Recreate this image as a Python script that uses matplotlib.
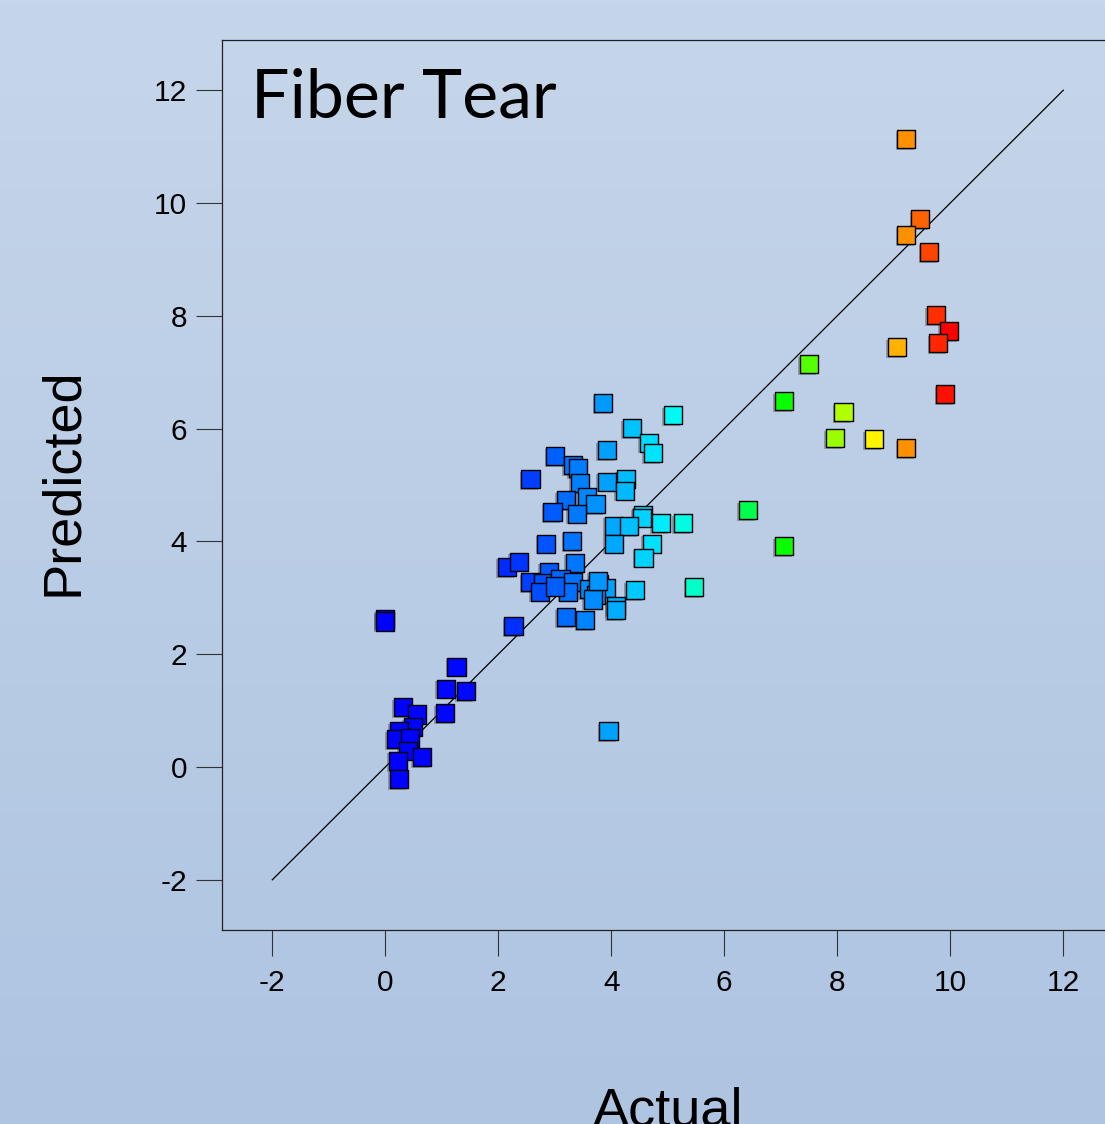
import numpy as np
import matplotlib
matplotlib.use('Agg')
import matplotlib.pyplot as plt
import matplotlib.patheffects as pe
from matplotlib.colors import LinearSegmentedColormap

plt.rcParams['font.family'] = ['Liberation Sans', 'DejaVu Sans']

# actual vs predicted
actual = [
    9.22, 9.47, 9.22, 9.63, 9.75, 9.98, 9.79, 9.06, 9.91, 9.22, 8.65, 8.11, 7.96,
    7.50, 7.06, 7.06, 6.42, 5.47,
    3.86, 5.09, 4.37, 4.67, 4.74, 3.92, 3.01, 3.32, 3.41, 2.57, 3.44, 3.92, 4.26,
    4.24, 3.57, 3.72, 3.20, 3.39, 2.96, 4.56, 4.54, 4.88, 5.27, 4.04, 4.32, 4.04,
    4.72, 2.85, 3.31, 4.57, 2.15, 2.36, 3.35, 2.90, 2.57, 2.80, 3.10, 3.32, 2.74,
    3.24, 3.60, 3.78, 3.91, 3.73, 3.67, 4.08, 4.08, 4.42, 2.27, 3.20, 3.54, 3.95,
    3.00, 3.76,
    -0.01, -0.01, 1.26, 1.07, 1.43, 1.06, 0.31, 0.56, 0.49, 0.24, 0.19, 0.44,
    0.40, 0.65, 0.22, 0.24,
]
predicted = [
    11.13, 9.71, 9.43, 9.13, 8.01, 7.73, 7.51, 7.44, 6.61, 5.65, 5.81, 6.29, 5.83,
    7.14, 6.49, 3.92, 4.55, 3.19,
    6.45, 6.24, 6.01, 5.75, 5.56, 5.62, 5.51, 5.35, 5.30, 5.10, 5.03, 5.06, 5.10,
    4.90, 4.79, 4.66, 4.73, 4.49, 4.52, 4.47, 4.42, 4.32, 4.32, 4.28, 4.27, 3.96,
    3.96, 3.96, 4.01, 3.71, 3.55, 3.64, 3.62, 3.46, 3.28, 3.27, 3.34, 3.28, 3.11,
    3.11, 3.15, 3.25, 3.17, 3.05, 2.97, 2.85, 2.78, 3.14, 2.50, 2.66, 2.60, 0.64,
    3.20, 3.30,
    2.62, 2.58, 1.78, 1.39, 1.35, 0.95, 1.06, 0.93, 0.71, 0.63, 0.49, 0.51,
    0.29, 0.17, 0.11, -0.22,
]
ticks = [-2, 0, 2, 4, 6, 8, 10, 12]

cmap = LinearSegmentedColormap.from_list('de', [
    (0.0, '#0000ff'), (0.15, '#0008ff'), (0.25, '#003cff'), (0.40, '#00a5ff'),
    (0.50, '#00f8ff'), (0.55, '#00ffc8'), (0.70, '#00ff00'), (0.86, '#ffff00'),
    (0.92, '#ff9b00'), (1.0, '#ff0000')])

W, H = 1105, 1124
fig = plt.figure(figsize=(W / 100, H / 100), dpi=100)

# gradient background
bg = fig.add_axes([0, 0, 1, 1], zorder=-10)
top = np.array([198, 214, 234]) / 255
bot = np.array([174, 196, 225]) / 255
t = np.linspace(0, 1, 256)[:, None]
grad = top[None, :] * (1 - t) + bot[None, :] * t
bg.imshow(grad[:, None, :], aspect='auto', extent=[0, 1, 0, 1])
bg.axis('off')

ax = fig.add_axes([222 / W, 194 / H, 891.6 / W, 890 / H])
ax.set_facecolor('none')
lim = (-2.89, 12.89)
ax.set_xlim(lim)
ax.set_ylim(lim)

ax.plot([-2, 12], [-2, 12], color='black', linewidth=0.9, zorder=2)

sc = ax.scatter(actual, predicted, c=np.clip(actual, 0, 10), cmap=cmap, vmin=0, vmax=10,
                marker='s', s=170, edgecolors='black', linewidths=1.0, zorder=3)
sc.set_path_effects([pe.SimplePatchShadow(offset=(-1.2, -1.2), shadow_rgbFace='#333333', alpha=0.35),
                     pe.Normal()])

ax.set_xticks(ticks)
ax.set_yticks(ticks)
ax.set_xticklabels([str(v) for v in ticks])
ax.set_yticklabels([str(v) for v in ticks])
ax.tick_params(axis='both', direction='out', length=19, width=0.8, color='#333333',
               labelsize=21.5, labelcolor='black')
ax.tick_params(axis='x', pad=9)
ax.tick_params(axis='y', pad=6)
for s in ax.spines.values():
    s.set_color('#222222')
    s.set_linewidth(0.9)

ax.text(0.033, 0.9125, 'Fiber Tear', transform=ax.transAxes, fontsize=49,
        family=['Lato', 'DejaVu Sans'], ha='left', va='baseline', color='black')

fig.text(668 / W, -1 / H, 'Actual', fontsize=39, ha='center', va='baseline')
fig.text(63 / W, 1 - 482 / H, 'Predicted', fontsize=39, rotation=90, ha='center', va='center')

fig.savefig('out.png', dpi=100)
